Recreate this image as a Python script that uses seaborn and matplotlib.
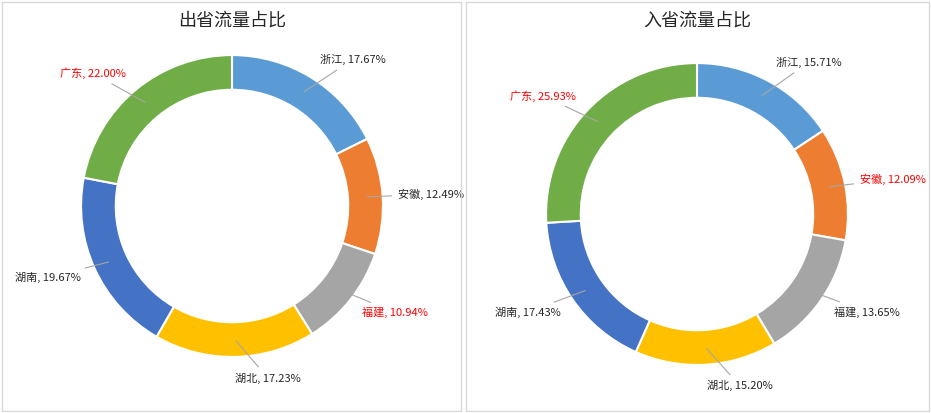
import numpy as np
import matplotlib
matplotlib.use("Agg")
import matplotlib.pyplot as plt
import seaborn as sns
from matplotlib.patches import Rectangle

provinces = ["浙江", "安徽", "福建", "湖北", "湖南", "广东"]
out_share = [17.67, 12.49, 10.94, 17.23, 19.67, 22.00]
in_share = [15.71, 12.09, 13.65, 15.20, 17.43, 25.93]
out_red = ["福建", "广东"]
in_red = ["安徽", "广东"]
colors = ["#5B9BD5", "#ED7D31", "#A5A5A5", "#FFC000", "#4472C4", "#70AD47"]

sns.set_theme(style="white")
plt.rcParams["font.family"] = ["Noto Sans CJK SC", "DejaVu Sans"]

W, H = 931, 413
fig = plt.figure(figsize=(W / 100, H / 100), dpi=100)

# panel borders
for x0, x1 in [(2, 461), (466, 929)]:
    fig.patches.append(Rectangle((x0 / W, 2 / H), (x1 - x0) / W, (H - 4) / H,
                                 transform=fig.transFigure, fill=False,
                                 edgecolor="#D9D9D9", lw=1))


def donut(cx, cy, title, values, red, tx):
    size = 400
    ax = fig.add_axes([(cx - size / 2) / W, (H - cy - size / 2) / H, size / W, size / H])
    wedges, _ = ax.pie(values, colors=colors, startangle=90, counterclock=False,
                       wedgeprops=dict(width=0.23, edgecolor="white", linewidth=1.5))
    ax.set_xlim(-1.325, 1.325)
    ax.set_ylim(-1.325, 1.325)
    ax.set_aspect("equal")
    ax.axis("off")
    for w, name, v in zip(wedges, provinces, values):
        ang = np.deg2rad((w.theta1 + w.theta2) / 2)
        x, y = np.cos(ang), np.sin(ang)
        ha = "left" if x > 0 else "right"
        ax.annotate(f"{name}, {v:.2f}%", xy=(0.88 * x, 0.88 * y),
                    xytext=(1.1 * x, 1.14 * y), ha=ha, va="center", fontsize=8,
                    color="red" if name in red else "#262626",
                    arrowprops=dict(arrowstyle="-", color="#A6A6A6", lw=0.8))
    fig.text(tx / W, 1 - 21 / H, title, ha="center", va="center", fontsize=13, color="#262626")


donut(232, 206, "出省流量占比", out_share, out_red, 232)
donut(697, 214, "入省流量占比", in_share, in_red, 697)

fig.savefig("out.png", dpi=100)
